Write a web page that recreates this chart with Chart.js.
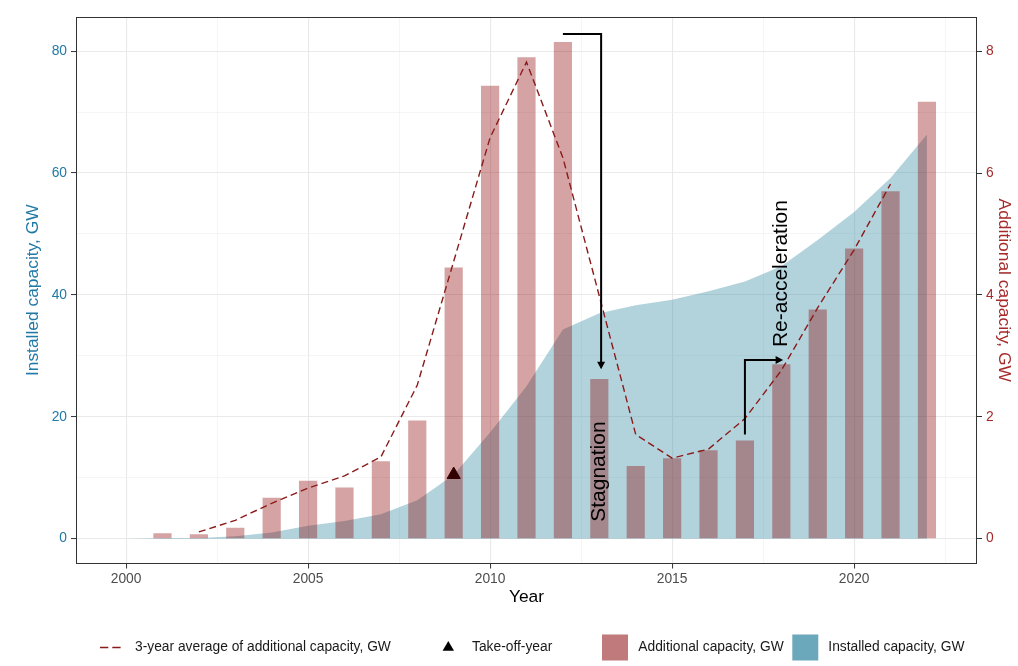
<!DOCTYPE html>
<html>
<head>
<meta charset="utf-8">
<script src="https://cdn.jsdelivr.net/npm/chart.js@4/dist/chart.umd.min.js"></script>
<style>
  html, body { margin: 0; padding: 0; background: #fff; }
  #wrap { width: 1018px; height: 666px; position: relative; }
</style>
</head>
<body>
<div id="wrap"><canvas id="chart"></canvas></div>
<script>
// ---- data ----
const years = [2000, 2001, 2002, 2003, 2004, 2005, 2006, 2007, 2008, 2009, 2010, 2011,
               2012, 2013, 2014, 2015, 2016, 2017, 2018, 2019, 2020, 2021, 2022];
// cumulative installed capacity, GW (left axis)
const installedGW = [0, 0.1, 0.1, 0.4, 1.0, 2.1, 2.9, 4.0, 6.3, 10.5, 17.4, 25.0,
                     34.3, 37.0, 38.3, 39.2, 40.6, 42.2, 44.7, 49.0, 53.6, 59.2, 66.3];
// capacity added each year, GW (right axis)
const additionalGW = [null, 0.09, 0.07, 0.18, 0.67, 0.95, 0.84, 1.27, 1.94, 4.45, 7.43, 7.90,
                      8.15, 2.62, 1.19, 1.32, 1.45, 1.61, 2.86, 3.76, 4.76, 5.70, 7.17];
// centred 3-year average of the additions, GW (right axis)
const avg3yrGW = [null, null, 0.11, 0.30, 0.58, 0.83, 1.03, 1.34, 2.52, 4.55, 6.58, 7.82,
                  6.25, 3.98, 1.71, 1.32, 1.47, 1.97, 2.76, 3.79, 4.74, 5.82, null];
// take-off marker (left axis)
const takeOffYear = [2009];
const takeOffGW = [10.5];

// tick labels
const yearTicks = [2000, 2005, 2010, 2015, 2020];
const installedTicks = [0, 20, 40, 60, 80];
const additionalTicks = [0, 2, 4, 6, 8];

// annotations in (year, additional GW) space
const stagnationArrow = [[2012, 8.28], [2013.05, 8.28], [2013.05, 2.78]];
const reaccelArrow = [[2017, 1.71], [2017, 2.93], [2018.05, 2.93]];
const phaseLabels = [
  { text: 'Stagnation', year: 2013, gw: 1.1 },
  { text: 'Re-acceleration', year: 2018, gw: 4.35 }
];

// ---- styling ----
const FONT = "'Liberation Sans', Arial, Helvetica, sans-serif";
const BLUE_TXT = '#2279A6';
const RED_TXT = '#A52A2A';
const AVG_COLOR = '#8B1A1A';
const BAR_FILL = 'rgba(139,0,0,0.36)';
const AREA_FILL = 'rgba(65,145,168,0.4)';
const BAR_KEY = '#C07A7B';
const AREA_KEY = '#6BA8BC';

Chart.defaults.font.family = FONT;
Chart.defaults.font.size = 13.8;

const X_MIN = 1998.625, X_MAX = 2023.375;
const Y_MIN = -4.08, Y_MAX = 85.6;

function withMinors(majors, step, lo, hi) {
  const all = [];
  majors.forEach(v => { all.push(v); all.push(v + step / 2); });
  return all.filter(v => v >= lo && v <= hi).sort((a, b) => a - b);
}
const xGridVals = withMinors(yearTicks, 5, X_MIN, X_MAX);
const yGridVals = withMinors(installedTicks, 20, Y_MIN, Y_MAX);

const gridStyle = (majors) => ({
  offset: false,
  color: c => majors.includes(c.tick.value) ? '#E9E9E9' : '#F3F3F3',
  lineWidth: c => majors.includes(c.tick.value) ? 1.1 : 0.8,
  tickColor: c => majors.includes(c.tick.value) ? '#333333' : 'rgba(0,0,0,0)',
  tickWidth: 1,
  tickLength: 5,
  drawTicks: true
});

const pts = (arr) => years.map((y, i) => ({ x: y, y: arr[i] }));

// panel border, arrows, rotated phase labels
const overlayPlugin = {
  id: 'overlay',
  afterDatasetsDraw(chart) {
    const { ctx, scales } = chart;
    const xs = scales.x, ys = scales.y1;
    const drawArrow = (path) => {
      const p = path.map(([a, b]) => [xs.getPixelForValue(a), ys.getPixelForValue(b)]);
      const [x1, y1] = p[p.length - 2], [x2, y2] = p[p.length - 1];
      const ang = Math.atan2(y2 - y1, x2 - x1);
      const len = 7.5, half = 4;
      ctx.save();
      ctx.strokeStyle = '#000'; ctx.fillStyle = '#000';
      ctx.lineWidth = 2; ctx.lineJoin = 'miter'; ctx.lineCap = 'butt';
      ctx.beginPath();
      ctx.moveTo(p[0][0], p[0][1]);
      for (let i = 1; i < p.length - 1; i++) ctx.lineTo(p[i][0], p[i][1]);
      ctx.lineTo(x2 - Math.cos(ang) * len * 0.7, y2 - Math.sin(ang) * len * 0.7);
      ctx.stroke();
      ctx.beginPath();
      ctx.moveTo(x2, y2);
      ctx.lineTo(x2 - len * Math.cos(ang) + half * Math.sin(ang), y2 - len * Math.sin(ang) - half * Math.cos(ang));
      ctx.lineTo(x2 - len * Math.cos(ang) - half * Math.sin(ang), y2 - len * Math.sin(ang) + half * Math.cos(ang));
      ctx.closePath();
      ctx.fill();
      ctx.restore();
    };
    drawArrow(stagnationArrow);
    drawArrow(reaccelArrow);

    phaseLabels.forEach(l => {
      ctx.save();
      ctx.translate(xs.getPixelForValue(l.year), ys.getPixelForValue(l.gw));
      ctx.rotate(-Math.PI / 2);
      ctx.font = '21px ' + FONT;
      ctx.fillStyle = '#000';
      ctx.textAlign = 'center';
      ctx.textBaseline = 'middle';
      ctx.fillText(l.text, 0, 0);
      ctx.restore();
    });
  },
  afterDraw(chart) {
    const { ctx, chartArea: a } = chart;
    ctx.save();
    ctx.strokeStyle = '#333333';
    ctx.lineWidth = 1;
    ctx.strokeRect(Math.round(a.left) + 0.5, Math.round(a.top) + 0.5,
                   Math.round(a.right - a.left) - 1, Math.round(a.bottom - a.top) - 1);
    ctx.restore();
  }
};

// legend row along the bottom
const legendPlugin = {
  id: 'bottomLegend',
  afterDraw(chart) {
    const { ctx } = chart;
    const cy = 647.5;
    ctx.save();
    ctx.font = '13.8px ' + FONT;
    ctx.fillStyle = '#1A1A1A';
    ctx.textBaseline = 'middle';
    ctx.textAlign = 'left';

    // dashed key
    ctx.strokeStyle = AVG_COLOR;
    ctx.lineWidth = 1.4;
    ctx.setLineDash([8.3, 4]);
    ctx.beginPath(); ctx.moveTo(100, cy); ctx.lineTo(121, cy); ctx.stroke();
    ctx.setLineDash([]);
    ctx.fillText('3-year average of additional capacity, GW', 135, cy);

    // triangle key
    const r = 6.6, tx = 448.3;
    ctx.fillStyle = '#000';
    ctx.beginPath();
    ctx.moveTo(tx, cy - r);
    ctx.lineTo(tx + r * Math.sin(2 * Math.PI / 3), cy + r / 2);
    ctx.lineTo(tx - r * Math.sin(2 * Math.PI / 3), cy + r / 2);
    ctx.closePath(); ctx.fill();
    ctx.fillStyle = '#1A1A1A';
    ctx.fillText('Take-off-year', 472, cy);

    // filled keys
    ctx.fillStyle = BAR_KEY;
    ctx.fillRect(602, cy - 13, 26, 26);
    ctx.fillStyle = '#1A1A1A';
    ctx.fillText('Additional capacity, GW', 638.3, cy);

    ctx.fillStyle = AREA_KEY;
    ctx.fillRect(792.3, cy - 13, 26, 26);
    ctx.fillStyle = '#1A1A1A';
    ctx.fillText('Installed capacity, GW', 828.3, cy);
    ctx.restore();
  }
};

new Chart(document.getElementById('chart'), {
  type: 'bar',
  data: {
    datasets: [
      {
        type: 'line',
        label: 'Installed capacity, GW',
        data: pts(installedGW),
        yAxisID: 'y',
        fill: 'origin',
        backgroundColor: AREA_FILL,
        borderColor: 'rgba(0,0,0,0)',
        borderWidth: 0,
        pointRadius: 0,
        tension: 0,
        order: 4
      },
      {
        type: 'line',
        label: 'Take-off-year',
        data: takeOffYear.map((y, i) => ({ x: y, y: takeOffGW[i] })),
        yAxisID: 'y',
        showLine: false,
        pointStyle: 'triangle',
        pointRadius: 7.6,
        pointBorderWidth: 1,
        pointBackgroundColor: '#000',
        pointBorderColor: '#000',
        order: 3
      },
      {
        type: 'bar',
        label: 'Additional capacity, GW',
        data: pts(additionalGW),
        yAxisID: 'y1',
        backgroundColor: BAR_FILL,
        borderWidth: 0,
        barPercentage: 0.5,
        categoryPercentage: 1.0,
        order: 2
      },
      {
        type: 'line',
        label: '3-year average of additional capacity, GW',
        data: pts(avg3yrGW),
        yAxisID: 'y1',
        borderColor: AVG_COLOR,
        borderWidth: 1.4,
        borderDash: [7, 4],
        pointRadius: 0,
        fill: false,
        tension: 0,
        order: 1
      }
    ]
  },
  options: {
    responsive: true,
    maintainAspectRatio: false,
    animation: false,
    events: [],
    layout: { padding: { top: 17, left: 0, right: 0, bottom: 52.5 } },
    plugins: { legend: { display: false }, tooltip: { enabled: false } },
    scales: {
      x: {
        type: 'linear',
        min: X_MIN, max: X_MAX,
        offset: false,
        afterBuildTicks: s => { s.ticks = xGridVals.map(v => ({ value: v })); },
        afterFit: s => { s.height = 50; },
        ticks: {
          autoSkip: false, maxRotation: 0, padding: 2.4, color: '#4D4D4D',
          callback: v => yearTicks.includes(v) ? String(v) : ''
        },
        grid: gridStyle(yearTicks),
        border: { display: false },
        title: {
          display: true, text: 'Year', color: '#000',
          font: { size: 17.4 }, padding: { top: 0, bottom: 5.6 }
        }
      },
      y: {
        type: 'linear', position: 'left',
        min: Y_MIN, max: Y_MAX,
        afterBuildTicks: s => { s.ticks = yGridVals.map(v => ({ value: v })); },
        afterFit: s => { s.width = 76; },
        ticks: {
          autoSkip: false, padding: 4, color: BLUE_TXT,
          callback: v => installedTicks.includes(v) ? String(v) : ''
        },
        grid: gridStyle(installedTicks),
        border: { display: false },
        title: {
          display: true, text: 'Installed capacity, GW', color: BLUE_TXT,
          font: { size: 17.4 }, padding: { top: 22.5, bottom: 0 }
        }
      },
      y1: {
        type: 'linear', position: 'right',
        min: Y_MIN / 10, max: Y_MAX / 10,
        afterBuildTicks: s => { s.ticks = additionalTicks.map(v => ({ value: v })); },
        afterFit: s => { s.width = 41; },
        ticks: { autoSkip: false, padding: 4, color: RED_TXT, callback: v => String(v) },
        grid: { drawOnChartArea: false, drawTicks: true, tickLength: 5, tickColor: '#333333', tickWidth: 1 },
        border: { display: false },
        title: {
          display: true, text: 'Additional capacity, GW', color: RED_TXT,
          font: { size: 17.4 }, padding: { top: 4, bottom: 0 }
        }
      }
    }
  },
  plugins: [overlayPlugin, legendPlugin]
});
</script>
</body>
</html>
